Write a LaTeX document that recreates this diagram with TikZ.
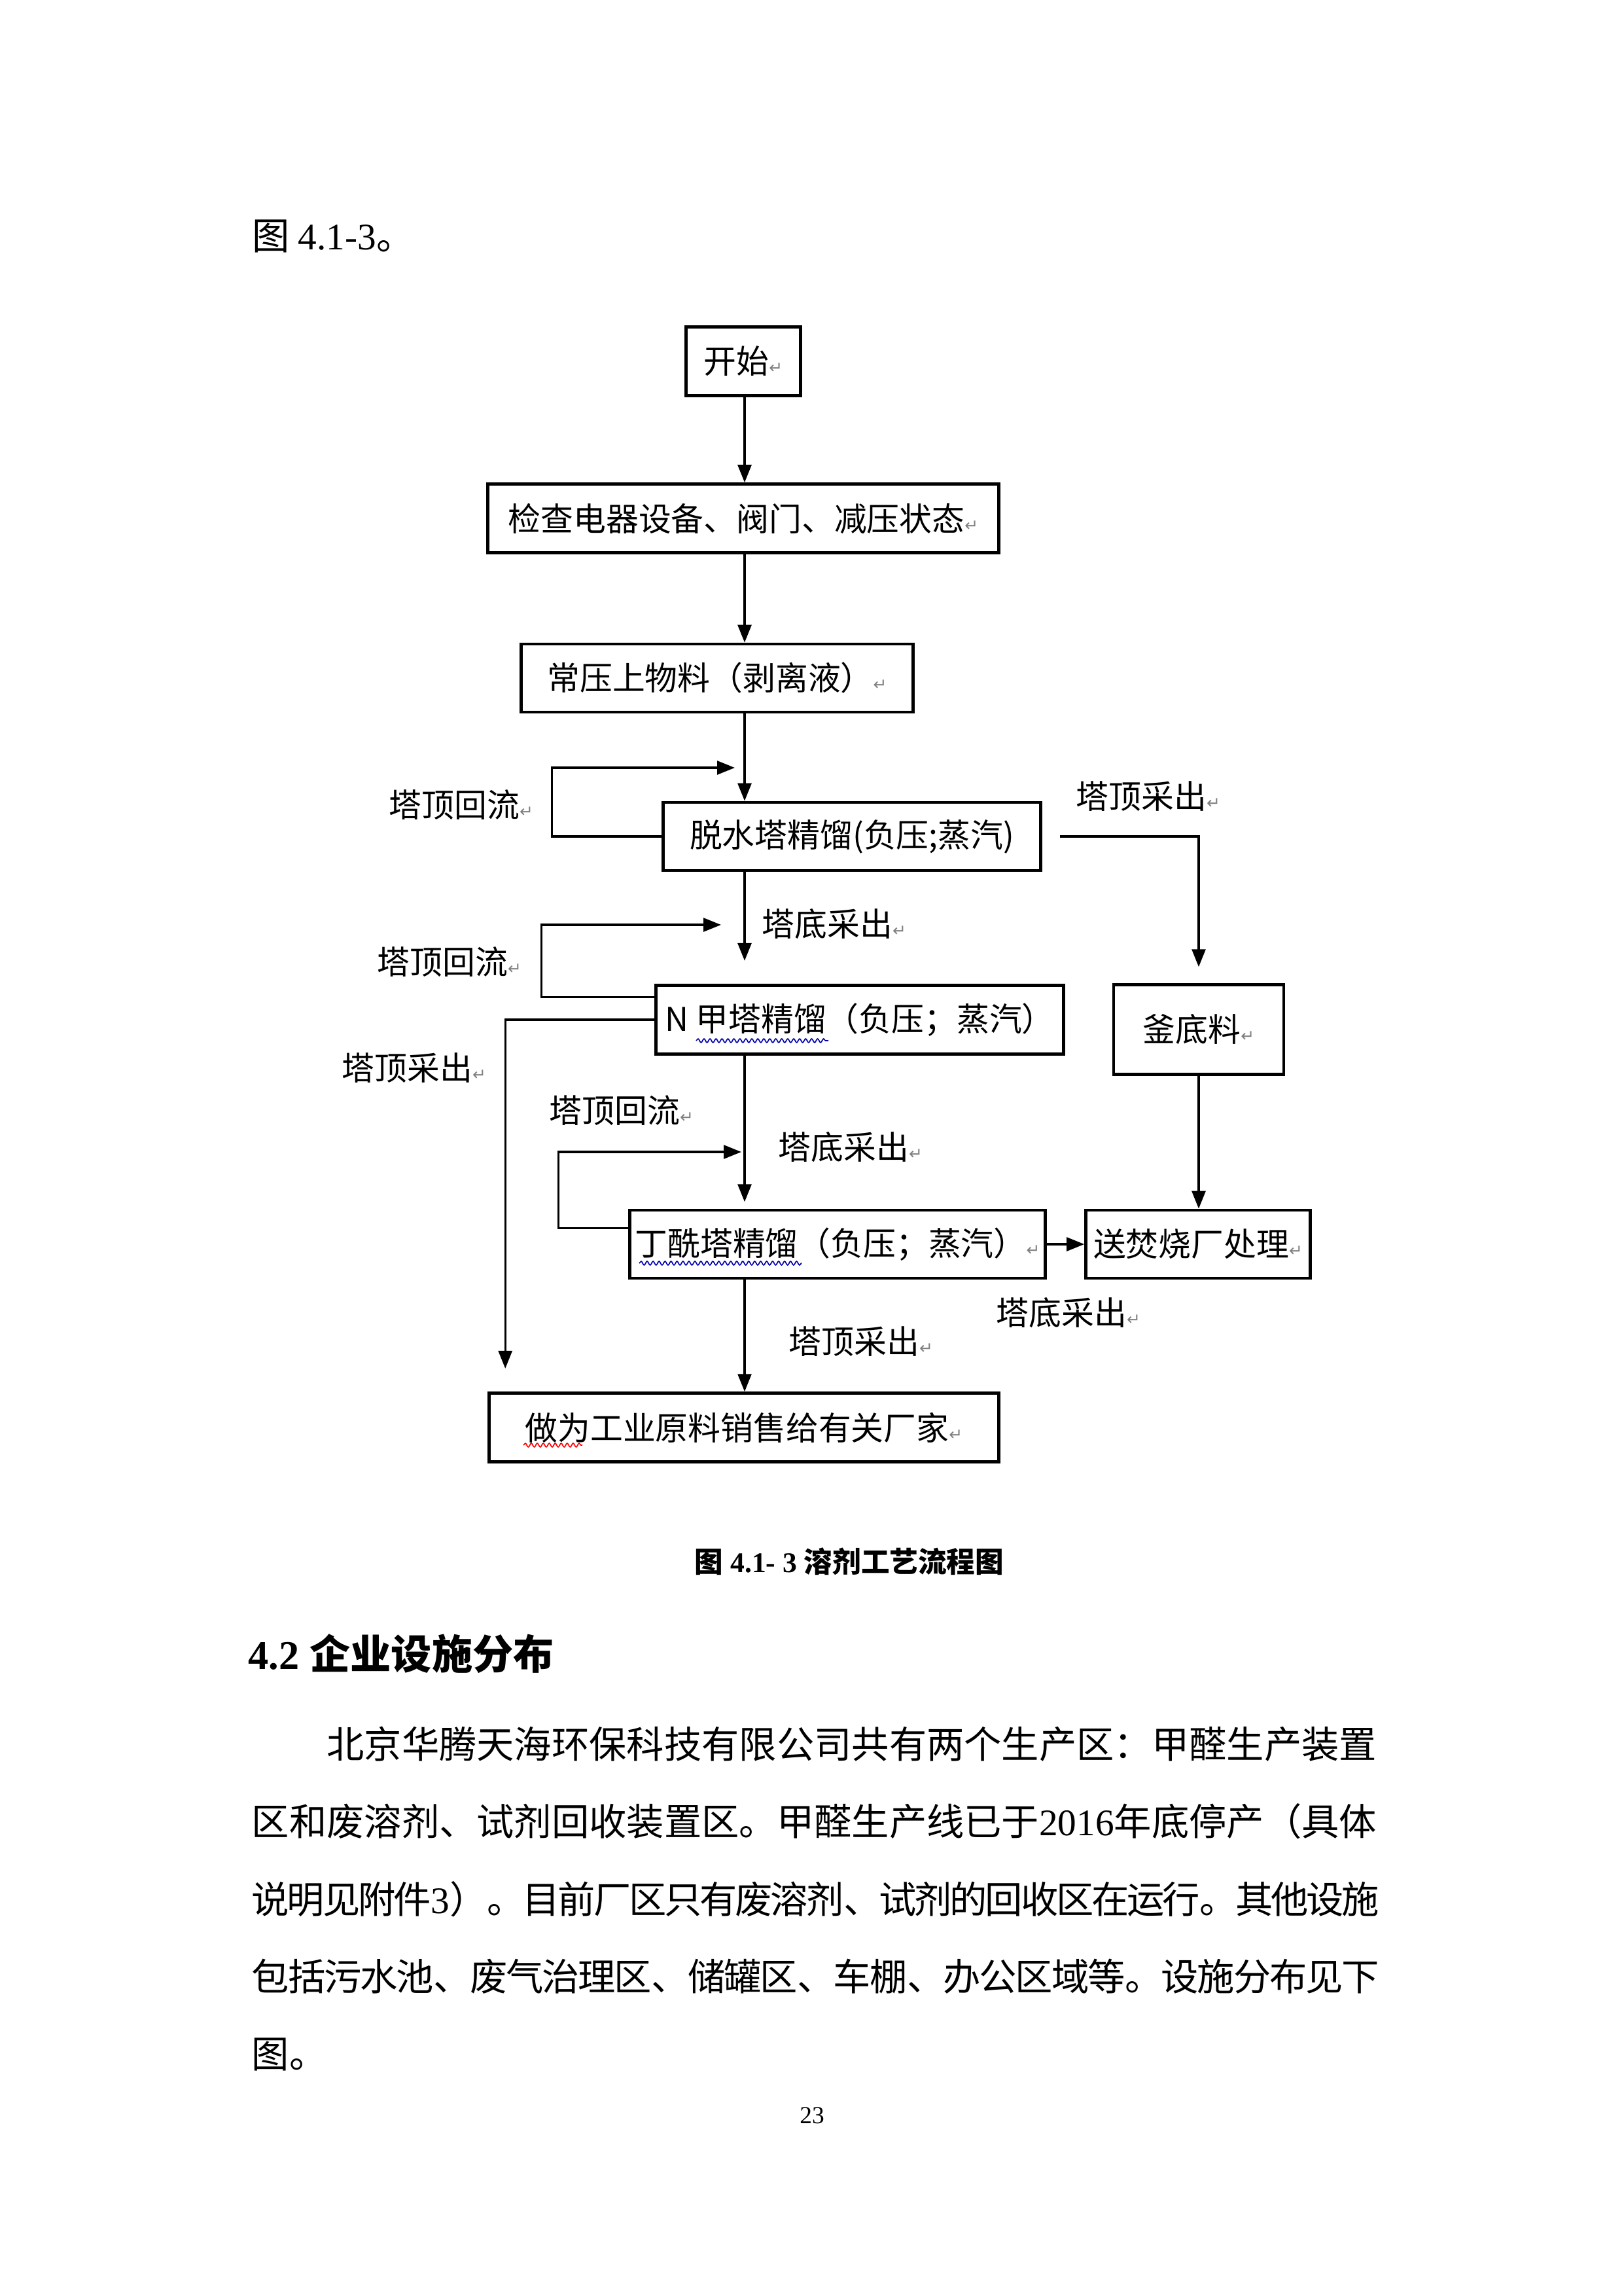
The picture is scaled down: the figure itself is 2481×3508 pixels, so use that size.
\documentclass[tikz,border=0pt]{standalone}
\usepackage{fontspec}
\setmainfont{Liberation Serif}
\newfontfamily\cjk{Noto Sans CJK SC}
\newfontfamily\symf{DejaVu Sans}
\usetikzlibrary{arrows.meta,decorations.pathmorphing}
\XeTeXlinebreaklocale "zh"
\XeTeXlinebreakskip=0pt plus 1pt minus 2.5pt
\newlength{\pxu}
\setlength{\pxu}{0.08464mm}
\newcommand{\retmark}{{\symf\fontsize{6pt}{6pt}\selectfont\color{gray}↵}}

\begin{document}
\begin{tikzpicture}[x=0.08464mm, y=-0.08464mm,
  box/.style={draw, line width=1.1pt, inner sep=0pt, font=\cjk\fontsize{12pt}{14pt}\selectfont},
  lbl/.style={inner sep=0pt, font=\cjk\fontsize{12pt}{14pt}\selectfont},
  flow/.style={line width=0.8pt, -{Triangle[length=6.5pt,width=5pt]}},
  wavy/.style={line width=0.4pt, decorate, decoration={snake, amplitude=0.7pt, segment length=2.2pt}},
  body/.style={inner sep=0pt, anchor=west, font=\cjk\fontsize{13.8pt}{16pt}\selectfont},
  bodyline/.style={body, text width=1723*\pxu, align=justify}]
\useasboundingbox (0,0) rectangle (2481,3508);

% text above the chart
\node[body] (lead) at (385,361) {图 {\rmfamily 4.1-3}。};

% boxes
\node[box, minimum width=175*\pxu, minimum height=105*\pxu] (start) at (1136,552) {开始\retmark};
\node[box, minimum width=781*\pxu, minimum height=105*\pxu] (check) at (1136,792) {检查电器设备、阀门、减压状态\retmark};
\node[box, minimum width=599*\pxu, minimum height=104*\pxu] (feed) at (1096,1036) {常压上物料（剥离液）\retmark};
\node[box, minimum width=577*\pxu, minimum height=104*\pxu] (dehyd) at (1302,1278) {脱水塔精馏(负压;蒸汽)};
\node[box, minimum width=623*\pxu, minimum height=105*\pxu] (nmethyl) at (1314,1558) {N 甲塔精馏（负压；蒸汽）};
\node[box, minimum width=260*\pxu, minimum height=137*\pxu] (kettle) at (1832,1573) {釜底料\retmark};
\node[box, minimum width=635*\pxu, minimum height=104*\pxu] (butyl) at (1280,1901) {丁酰塔精馏（负压；蒸汽）\retmark};
\node[box, minimum width=343*\pxu, minimum height=104*\pxu] (incin) at (1831,1901) {送焚烧厂处理\retmark};
\node[box, minimum width=779*\pxu, minimum height=105*\pxu] (sell) at (1137,2181) {做为工业原料销售给有关厂家\retmark};

% labels
\node[lbl] (top1) at (705,1230) {塔顶回流\retmark};
\node[lbl] (out1) at (1755,1217) {塔顶采出\retmark};
\node[lbl] (bot1) at (1275,1412) {塔底采出\retmark};
\node[lbl] (top2) at (687,1470) {塔顶回流\retmark};
\node[lbl] (out2) at (633,1632) {塔顶采出\retmark};
\node[lbl] (top3) at (950,1697) {塔顶回流\retmark};
\node[lbl] (bot2) at (1300,1753) {塔底采出\retmark};
\node[lbl] (bot3) at (1633,2006) {塔底采出\retmark};
\node[lbl] (out3) at (1316,2050) {塔顶采出\retmark};

\coordinate (spine) at (1138,0);
\coordinate (r1) at (1123,1173);
\coordinate (r2) at (1102,1413);
\coordinate (r3) at (1133,1760);

% main line
\draw[flow] (start.south -| spine) -- (check.north -| spine);
\draw[flow] (check.south -| spine) -- (feed.north -| spine);
\draw[flow] (feed.south -| spine) -- (dehyd.north -| spine);
\draw[flow, shorten >=8.5pt] (dehyd.south -| spine) -- (nmethyl.north -| spine);
\draw[flow, shorten >=2.5pt] (nmethyl.south -| spine) -- (butyl.north -| spine);
\draw[flow] (butyl.south -| spine) -- (sell.north -| spine);

% reflux loops
\draw[flow] (dehyd.west) -- ++(-168,0) |- (r1);
\draw[flow] (nmethyl.north west) ++(0,20) -- ++(-173,0) |- (r2);
\draw[flow] (butyl.north west) ++(0,30) -- ++(-107,0) |- (r3);

% side streams
\draw[flow, shorten <=6.5pt, shorten >=6pt] (dehyd.east) -| (kettle.north);
\draw[flow] (kettle.south) -- (kettle.south |- incin.north);
\draw[flow] (butyl.east) -- (incin.west);
\draw[flow, shorten >=8.5pt] (nmethyl.west) -| ([xshift=27*\pxu]sell.north west);

% spell-check marks
\draw[wavy, blue!70!black] (1064,1590) -- (1266,1590);
\draw[wavy, blue!70!black] (977,1930) -- (1225,1930);
\draw[wavy, red] (800,2208) -- (890,2208);

% caption and text below
\node[font=\fontsize{10.5pt}{12pt}\selectfont\bfseries, inner sep=0pt] (cap) at (1298,2386) {{\cjk\bfseries 图} 4.1- 3 {\cjk\bfseries 溶剂工艺流程图}};
\node[anchor=west, inner sep=0pt, font=\fontsize{15pt}{18pt}\selectfont\bfseries] (head) at (379,2527) {4.2 {\cjk\bfseries 企业设施分布}};
\node[bodyline] (line1) at (384,2665) {\noindent\parfillskip=0pt\hspace*{2em}北京华腾天海环保科技有限公司共有两个生产区：甲醛生产装置};
\node[bodyline] (line2) at (384,2783) {\noindent\parfillskip=0pt 区和废溶剂、试剂回收装置区。甲醛生产线已于{\rmfamily 2016}年底停产（具体};
\node[bodyline] (line3) at (384,2902) {\noindent\parfillskip=0pt 说明见附件{\rmfamily 3}）。目前厂区只有废溶剂、试剂的回收区在运行。其他设施};
\node[bodyline] (line4) at (384,3020) {\noindent\parfillskip=0pt 包括污水池、废气治理区、储罐区、车棚、办公区域等。设施分布见下};
\node[body] (line5) at (384,3139) {图。};
\node[inner sep=0pt, font=\fontsize{9pt}{10pt}\selectfont] (page) at (1241,3232) {23};
\end{tikzpicture}
\end{document}
